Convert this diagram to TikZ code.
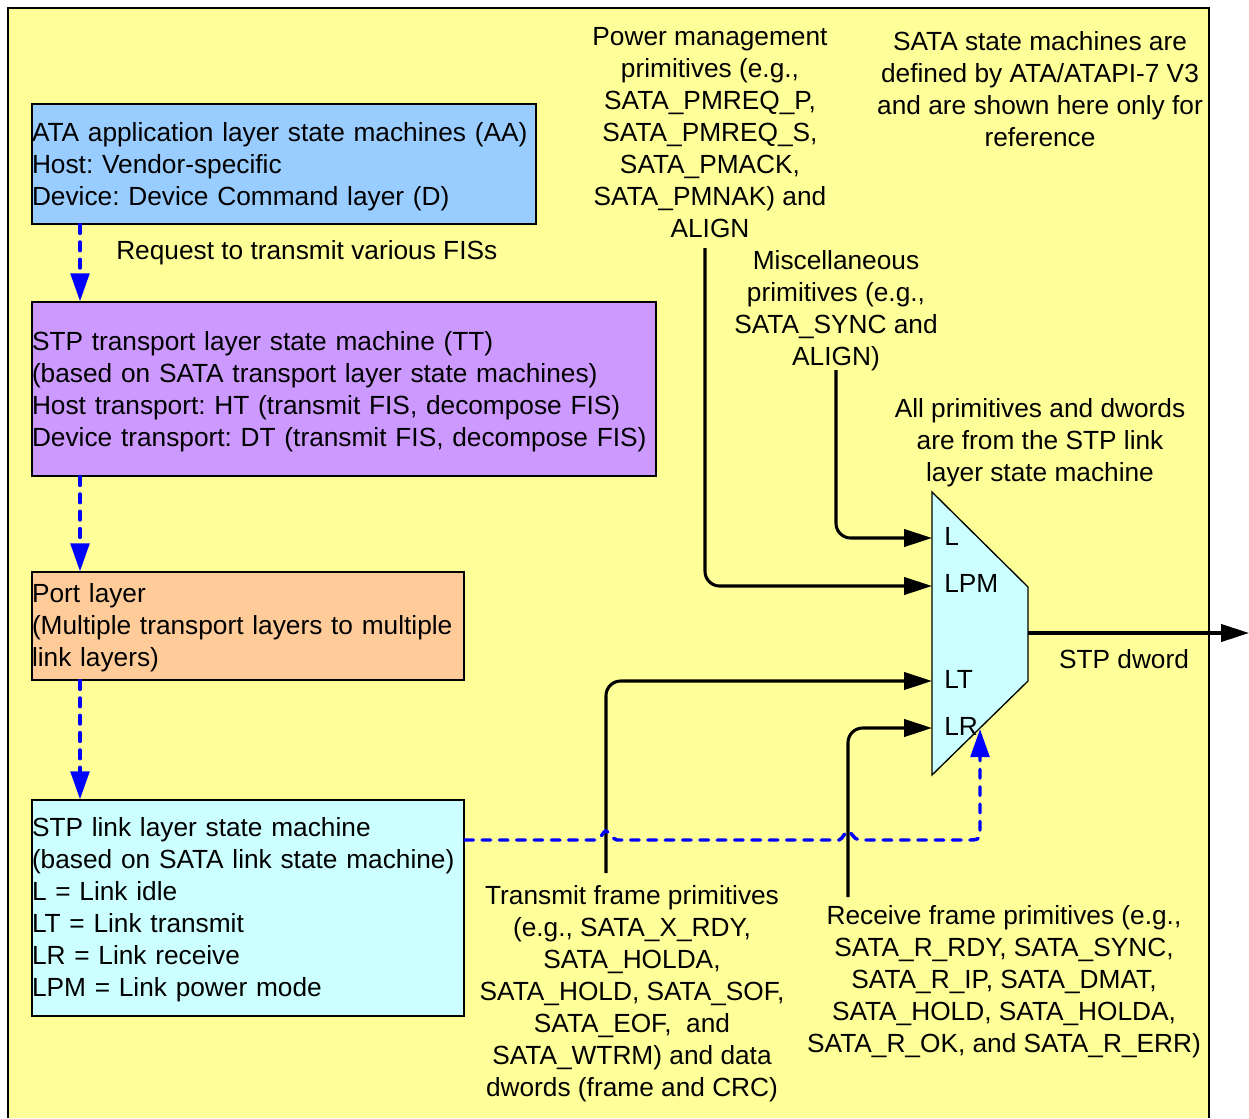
\documentclass[tikz,border=0pt]{standalone}
\usepackage{fontspec}
\setmainfont{Liberation Sans}
\usetikzlibrary{arrows.meta,calc}
\definecolor{bgyellow}{HTML}{FFFF99}
\definecolor{aablue}{HTML}{99CCFF}
\definecolor{ttpurple}{HTML}{CC99FF}
\definecolor{portorange}{HTML}{FFCC99}
\definecolor{linkcyan}{HTML}{CCFFFF}
\frenchspacing

\begin{document}
\begin{tikzpicture}[x=0.75pt, y=-0.75pt,
		every node/.style={font=\fontsize{19.7}{24}\selectfont, inner sep=0pt},
		layerbox/.style={draw=black, line width=1pt, align=left},
		notetext/.style={align=center},
		sigline/.style={line width=2.3pt, rounded corners=11pt, -{Triangle[length=21pt,width=13pt]}},
		reqarrow/.style={draw=blue, line width=2.6pt, line cap=round, dash pattern=on 6.5pt off 6.5pt, -{Triangle[length=21pt,width=14pt]}}]
			%%%%% START %%%%%
			
			\useasboundingbox (0,0) rectangle (1249,1118);
			\fill[bgyellow] (8,8) rectangle (1209,1118);
			\draw[line width=1.5pt] (8,1118) -- (8,8) -- (1209,8) -- (1209,1118);
			
			% layer boxes
			\node[layerbox, fill=aablue, text width=378pt, text height=28.2pt, text depth=61.8pt] (aa) at (284,164) {ATA application layer state machines (AA)\\Host: Vendor-specific\\Device: Device Command layer (D)};
			\node[layerbox, fill=ttpurple, text width=468pt, text height=36.45pt, text depth=94.05pt] (tt) at (344,389) {STP transport layer state machine (TT)\\(based on SATA transport layer state machines)\\Host transport: HT (transmit FIS, decompose FIS)\\Device transport: DT (transmit FIS, decompose FIS)};
			\node[layerbox, fill=portorange, text width=324pt, text height=22.95pt, text depth=58.05pt] (port) at (248,626) {Port layer\\(Multiple transport layers to multiple\\link layers)};
			\node[layerbox, fill=linkcyan, text width=324pt, text height=27.45pt, text depth=134.55pt] (link) at (248,908) {STP link layer state machine\\(based on SATA link state machine)\\L = Link idle\\LT = Link transmit\\LR = Link receive\\LPM = Link power mode};
			
			\coordinate (col) at (80,0);
			\draw[reqarrow] (aa.south -| col) -- (tt.north -| col);
			\draw[reqarrow] (tt.south -| col) -- (port.north -| col);
			\draw[reqarrow] (port.south -| col) -- (link.north -| col);
			\node[anchor=west] (reqlabel) at (116,253) {Request to transmit various FISs};
			
			% notes
			\node[notetext] (pm) at (710,133) {Power management\\primitives (e.g.,\\SATA\_PMREQ\_P,\\SATA\_PMREQ\_S,\\SATA\_PMACK,\\SATA\_PMNAK) and\\ALIGN};
			\node[notetext] (satanote) at (1040,89) {SATA state machines are\\defined by ATA/ATAPI-7 V3\\and are shown here only for\\reference};
			\node[notetext] (misc) at (836,311) {Miscellaneous\\primitives (e.g.,\\SATA\_SYNC and\\ALIGN)};
			\node[notetext] (allprim) at (1040,443) {All primitives and dwords\\are from the STP link\\layer state machine};
			\node[notetext] (txprim) at (632,994) {Transmit frame primitives\\(e.g., SATA\_X\_RDY,\\SATA\_HOLDA,\\SATA\_HOLD, SATA\_SOF,\\SATA\_EOF, \ and\\SATA\_WTRM) and data\\dwords (frame and CRC)};
			\node[notetext] (rxprim) at (1004,982) {Receive frame primitives (e.g.,\\SATA\_R\_RDY, SATA\_SYNC,\\SATA\_R\_IP, SATA\_DMAT,\\SATA\_HOLD, SATA\_HOLDA,\\SATA\_R\_OK, and SATA\_R\_ERR)};
			
			% mux
			\draw[fill=linkcyan, line width=1pt] (932,492) -- (1028,587) -- (1028,681) -- (932,775) -- cycle;
			\coordinate (inL) at (932,538);
			\coordinate (inLPM) at (932,586);
			\coordinate (inLT) at (932,681);
			\coordinate (inLR) at (932,728);
			\coordinate (lrfoot) at (980,729);
			\coordinate (muxout) at (1028,633);
			\coordinate (outend) at (1249,633);
			\node[anchor=west] (lblL) at (944,536) {L};
			\node[anchor=west] (lblLPM) at (944,583) {LPM};
			\node[anchor=west] (lblLT) at (944,679) {LT};
			\node[anchor=west] (lblLR) at (944,726) {LR};
			\node (dword) at (1124,659) {STP dword};
			
			% primitive lines
			\coordinate (pmfoot) at (705,248);
			\coordinate (miscfoot) at (836,370);
			\coordinate (txfoot) at (606,873);
			\coordinate (rxfoot) at (848,897);
			\draw[sigline] (pmfoot) |- (inLPM);
			\draw[sigline] (miscfoot) |- (inL);
			\draw[sigline] (txfoot) |- (inLT);
			\draw[sigline] (rxfoot) |- (inLR);
			\draw[sigline] (muxout) -- (outend);
			
			\coordinate (lkout) at (link.east |- 0,840);
			\draw[reqarrow] (lkout) -- (597,840) .. controls (601,839) and (603,831) .. (606,831) .. controls (609,831) and (611,839) .. (617,840) -- (839,840) .. controls (843,839) and (845,831) .. (848,831) .. controls (851,831) and (853,839) .. (859,840) -- (966,840) .. controls (980,840) .. (980,826) -- (lrfoot);
			
			%%%%% END %%%%%
\end{tikzpicture}
\end{document}
